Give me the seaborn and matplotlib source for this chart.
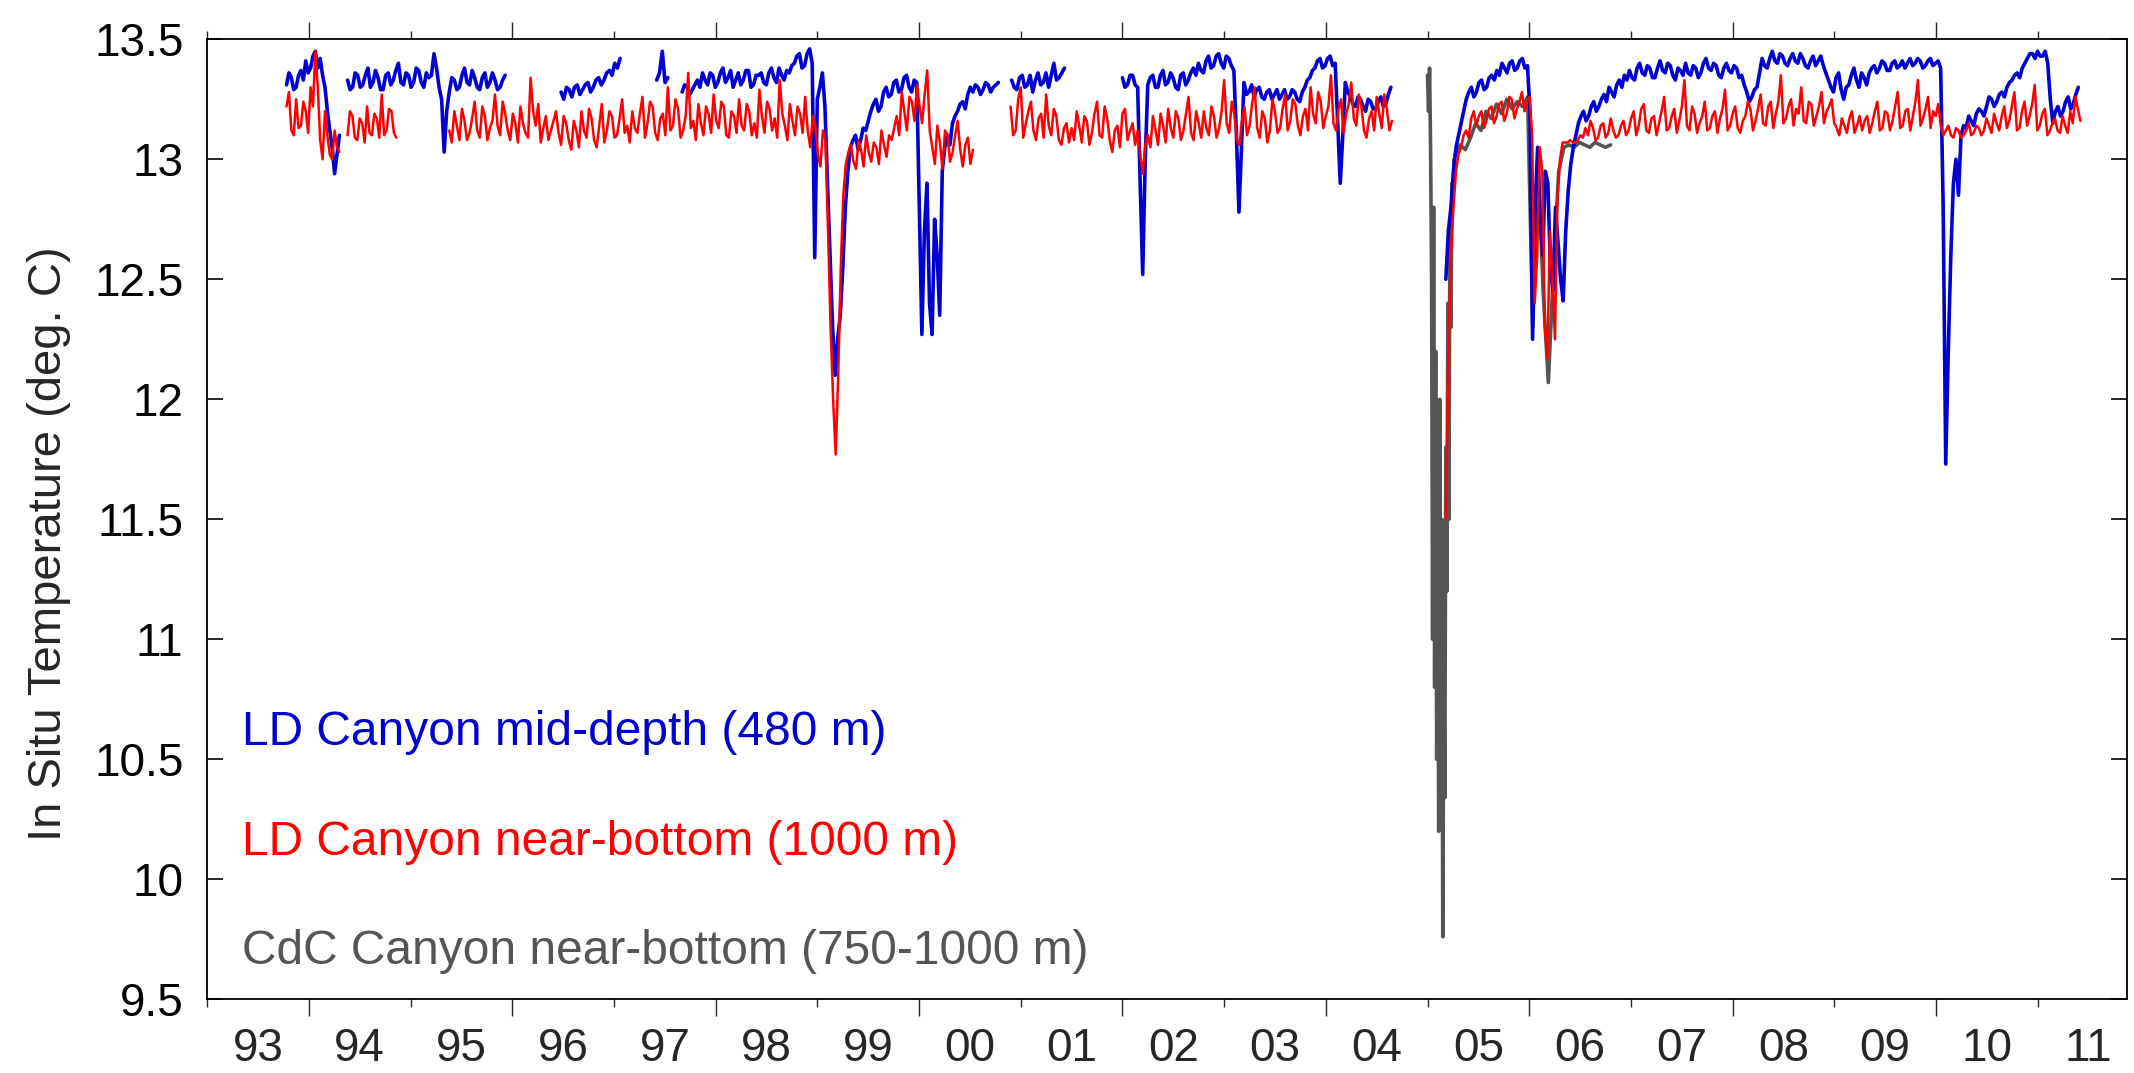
import numpy as np
import pandas as pd
import matplotlib
matplotlib.use("Agg")
import matplotlib.pyplot as plt
from matplotlib.ticker import FixedLocator, FuncFormatter, NullFormatter
import seaborn as sns

# ---------------- data ----------------
# LD Canyon mid-depth (480 m): record spans (decimal year), readings and in-between readings
blue_spans = [(1993.78, 1994.30), (1994.38, 1995.93), (1996.48, 1997.06), (1997.42, 1997.53),
              (1997.67, 2000.78), (2000.91, 2001.43), (2002.00, 2004.64), (2005.18, 2011.40)]
blue_a = [13.31, 13.34, 13.30, 13.37, 13.41, 13.38, 13.45, 13.42, 13.30, 13.12, 12.94, 13.10]
blue_a_mid = [13.36, 13.29, 13.35, 13.33, 13.36, 13.43, 13.38, 13.35, 13.20, 13.05, 13.02]
blue_b = [13.33, 13.30, 13.35, 13.31, 13.38, 13.32, 13.34, 13.29, 13.36, 13.33, 13.40, 13.31, 13.35,
          13.32, 13.37, 13.30, 13.34, 13.44, 13.30, 13.03, 13.28, 13.33, 13.30, 13.38, 13.31, 13.34,
          13.29, 13.36, 13.32, 13.33, 13.30, 13.35]
blue_b_mid = [13.29, 13.36, 13.30, 13.35, 13.30, 13.37, 13.29, 13.35, 13.31, 13.37, 13.32, 13.36,
              13.30, 13.38, 13.32, 13.36, 13.35, 13.38, 13.25, 13.20, 13.34, 13.29, 13.35, 13.32,
              13.37, 13.30, 13.34, 13.30, 13.36, 13.29, 13.33]
blue_c = [13.28, 13.30, 13.26, 13.31, 13.29, 13.32, 13.30, 13.34, 13.33, 13.37, 13.40, 13.42]
blue_c_mid = [13.25, 13.29, 13.30, 13.27, 13.31, 13.28, 13.33, 13.31, 13.36, 13.35, 13.38]
blue_d = [13.33, 13.45, 13.34]
blue_d_mid = [13.36, 13.32]
blue_e = [13.28, 13.30, 13.29,
          13.33, 13.36, 13.31, 13.35, 13.32, 13.38, 13.34, 13.30, 13.36, 13.33, 13.37, 13.31, 13.35,
          13.32, 13.36, 13.34, 13.38, 13.33, 13.36,
          13.40, 13.44, 13.39, 13.46, 12.59, 13.30, 13.22, 12.60, 12.10, 12.35, 12.80,
          13.05, 13.10, 13.08, 13.12, 13.20, 13.25, 13.22,
          13.30, 13.27, 13.33, 13.29, 13.35, 13.28, 13.32,
          12.27, 12.90, 12.27, 12.60, 12.95, 13.10, 13.15, 13.20, 13.24, 13.27,
          13.28, 13.30, 13.29, 13.31, 13.30, 13.32]
blue_e_mid = [13.31, 13.27, 13.31,
              13.30, 13.33, 13.36, 13.30, 13.36, 13.32, 13.37, 13.33, 13.31, 13.37, 13.30, 13.35,
              13.36, 13.31, 13.38, 13.32, 13.35, 13.37, 13.39,
              13.43, 13.38, 13.44, 13.40, 13.25, 13.36, 12.90, 12.30, 12.25, 12.55, 12.95,
              13.08, 13.04, 13.13, 13.16, 13.23, 13.20, 13.28,
              13.26, 13.32, 13.28, 13.34, 13.30, 13.33, 12.80,
              12.70, 12.40, 12.75, 12.35, 13.05, 13.06, 13.18, 13.23, 13.21, 13.30,
              13.31, 13.27, 13.32, 13.28, 13.31]
blue_f = [13.33, 13.29, 13.35, 13.31, 13.28, 13.36, 13.32, 13.30, 13.40, 13.34, 13.38]
blue_f_mid = [13.30, 13.34, 13.30, 13.35, 13.33, 13.31, 13.36, 13.35, 13.33, 13.36]
blue_g = [13.34, 13.31, 13.35, 13.30, 12.52,
          13.31, 13.35, 13.30, 13.37, 13.32, 13.34, 13.29, 13.36, 13.33, 13.38,
          13.40, 13.36, 13.43, 13.39, 13.44, 13.38, 13.42, 13.37, 12.78,
          13.32, 13.28, 13.26, 13.30, 13.25, 13.29,
          13.27, 13.25, 13.29, 13.26, 13.28, 13.24, 13.30, 13.34,
          13.38, 13.42, 13.39, 13.43, 13.40, 12.90,
          13.32, 13.26, 13.22, 13.25, 13.20, 13.24, 13.21, 13.26, 13.23, 13.30]
blue_g_mid = [13.30, 13.35, 13.31, 12.90, 13.00,
              13.34, 13.30, 13.35, 13.31, 13.36, 13.30, 13.35, 13.31, 13.36, 13.35,
              13.37, 13.41, 13.38, 13.43, 13.40, 13.43, 13.39, 13.10, 13.05,
              13.27, 13.31, 13.29, 13.26, 13.28, 13.25,
              13.29, 13.27, 13.25, 13.29, 13.25, 13.28, 13.33, 13.37,
              13.41, 13.38, 13.42, 13.39, 13.15, 13.10,
              13.28, 13.23, 13.26, 13.22, 13.25, 13.21, 13.24, 13.22, 13.27]
blue_h = [12.50, 12.80, 13.05, 13.15,
          13.25, 13.30, 13.28, 13.33, 13.30, 13.35,
          13.37, 13.40, 13.36, 13.41, 13.38, 13.42, 13.39,
          12.25, 13.05, 12.60, 12.90, 12.45, 12.65, 12.41,
          12.87, 13.05, 13.15, 13.20, 13.18, 13.24,
          13.22, 13.27, 13.30, 13.26, 13.33, 13.35,
          13.37, 13.33, 13.40, 13.35, 13.38, 13.34, 13.41, 13.36, 13.39, 13.33, 13.37, 13.40,
          13.35, 13.38, 13.36, 13.42, 13.37, 13.39, 13.34, 13.40, 13.36, 13.38, 13.35,
          13.28, 13.26, 13.30,
          13.42, 13.38, 13.45, 13.40, 13.43, 13.39, 13.44, 13.40, 13.42, 13.38, 13.43, 13.41, 13.39,
          13.33, 13.28, 13.36, 13.25, 13.31, 13.38, 13.30, 13.34, 13.36, 13.39,
          13.38, 13.40, 13.37, 13.41, 13.39, 13.38, 13.42, 13.40, 13.41, 13.39, 13.42, 13.40, 13.38,
          11.73, 12.60, 13.00, 13.10,
          13.13, 13.16, 13.19, 13.20,
          13.22, 13.25, 13.24, 13.28, 13.30, 13.33, 13.36, 13.38,
          13.42, 13.44, 13.45, 13.43, 13.40,
          13.15, 13.22, 13.20, 13.26, 13.23, 13.30]
blue_h_mid = [12.70, 12.95, 13.10, 13.20,
              13.28, 13.26, 13.32, 13.29, 13.34, 13.33,
              13.35, 13.38, 13.40, 13.37, 13.41, 13.38, 13.20,
              12.80, 12.75, 12.95, 12.55, 12.80, 12.50, 12.70,
              12.98, 13.10, 13.18, 13.16, 13.22, 13.20,
              13.25, 13.24, 13.28, 13.31, 13.30, 13.33,
              13.34, 13.38, 13.36, 13.39, 13.34, 13.38, 13.37, 13.40, 13.35, 13.38, 13.35, 13.36,
              13.39, 13.34, 13.40, 13.38, 13.40, 13.35, 13.38, 13.37, 13.39, 13.34, 13.31,
              13.24, 13.29, 13.36,
              13.39, 13.42, 13.41, 13.44, 13.40, 13.42, 13.41, 13.44, 13.39, 13.41, 13.39, 13.43, 13.36,
              13.30, 13.34, 13.29, 13.30, 13.35, 13.33, 13.36, 13.31, 13.38, 13.36,
              13.41, 13.37, 13.40, 13.38, 13.41, 13.40, 13.39, 13.42, 13.38, 13.41, 13.39, 13.41, 12.80,
              12.20, 12.90, 12.85, 13.14,
              13.18, 13.14, 13.21, 13.18,
              13.26, 13.22, 13.27, 13.26, 13.32, 13.35, 13.34, 13.40,
              13.44, 13.42, 13.43, 13.45, 13.25,
              13.20, 13.18, 13.24, 13.21, 13.27]

# LD Canyon near-bottom (1000 m): readings, plus the readings half-way between them
red_spans = [(1993.78, 1994.30), (1994.38, 1994.86), (1995.38, 2000.53),
             (2000.90, 2004.65), (2005.18, 2011.42)]
red_a = [13.22, 13.12, 13.25, 13.14, 13.20, 13.30, 13.45, 13.08, 13.20, 13.02, 13.12, 13.03]
red_a_mid = [13.28, 13.10, 13.13, 13.24, 13.11, 13.22, 13.30, 13.00, 13.10, 13.00, 13.05]
red_b = [13.10, 13.18, 13.08, 13.15, 13.22, 13.10, 13.17, 13.27, 13.12, 13.20, 13.09]
red_b_mid = [13.20, 13.09, 13.17, 13.07, 13.11, 13.19, 13.09, 13.10, 13.21, 13.11]
red_c = [13.12, 13.20, 13.08, 13.16, 13.11, 13.24, 13.09, 13.18, 13.13, 13.27, 13.10, 13.19,
         13.08, 13.15, 13.22, 13.11, 13.34, 13.14, 13.07, 13.18, 13.12, 13.20,
         13.06, 13.15, 13.04, 13.12, 13.20, 13.09, 13.17, 13.05, 13.23, 13.12, 13.18, 13.10,
         13.25, 13.14,
         13.20, 13.11, 13.26, 13.15, 13.22, 13.08, 13.19, 13.30, 13.14, 13.21, 13.12, 13.36,
         13.16, 13.23, 13.10, 13.19, 13.27, 13.13, 13.22, 13.09, 13.18, 13.25, 13.12, 13.20,
         13.15, 13.29, 13.11, 13.21, 13.17, 13.33, 13.14, 13.23, 13.10, 13.19, 13.26,
         13.05, 13.14, 12.97, 13.08,
         12.30, 11.77, 12.55,
         12.98, 13.06, 12.96, 13.04, 13.10, 12.99, 13.05, 13.12, 13.01, 13.08,
         13.18, 13.28, 13.12, 13.24, 13.31, 13.15, 13.37,
         13.05, 13.14, 12.96, 13.10, 13.03, 13.16, 12.97, 13.09, 13.04]
red_c_mid = [13.07, 13.14, 13.21, 13.08, 13.17, 13.12, 13.22, 13.08, 13.16, 13.14, 13.24, 13.12,
             13.19, 13.07, 13.15, 13.09, 13.20, 13.23, 13.13, 13.08, 13.16, 13.11,
             13.18, 13.08, 13.16, 13.05, 13.12, 13.21, 13.08, 13.14, 13.07, 13.20, 13.09, 13.17,
             13.11, 13.07,
             13.13, 13.19, 13.09, 13.24, 13.11, 13.17, 13.10, 13.12, 13.25, 13.09, 13.18, 13.13,
             13.08, 13.15, 13.22, 13.11, 13.16, 13.24, 13.10, 13.20, 13.11, 13.14, 13.23, 13.10,
             13.09, 13.18, 13.24, 13.12, 13.09, 13.19, 13.08, 13.16, 13.22, 13.11, 13.12,
             13.18, 13.02, 13.12, 12.70,
             12.00, 12.10, 12.85,
             13.03, 12.99, 13.08, 12.97, 13.03, 13.07, 12.98, 13.06, 13.10, 13.13,
             13.10, 13.20, 13.26, 13.16, 13.22, 13.27, 13.12,
             12.98, 13.07, 13.12, 12.99, 13.10, 13.04, 13.06, 12.98]
red_d = [13.22, 13.12, 13.30, 13.15, 13.24, 13.08, 13.19, 13.27, 13.10, 13.18, 13.06, 13.15,
         13.13, 13.20, 13.07, 13.16, 13.11, 13.24, 13.09, 13.17, 13.03, 13.14, 13.19, 13.08,
         13.15, 13.12, 12.94,
         13.10, 13.18, 13.06, 13.14, 13.21, 13.09, 13.17, 13.12, 13.26, 13.08, 13.15, 13.20,
         13.10, 13.18,
         13.13, 13.33, 13.11, 13.19, 13.06, 13.22, 13.14, 13.30, 13.09, 13.17, 13.12,
         13.20, 13.13, 13.27, 13.16, 13.23, 13.10, 13.21, 13.30, 13.15, 13.24, 13.18, 13.35,
         13.12, 13.25, 13.19, 13.32, 13.14, 13.22, 13.09, 13.20, 13.26, 13.13, 13.21, 13.16]
red_d_mid = [13.10, 13.25, 13.09, 13.20, 13.12, 13.17, 13.09, 13.14, 13.21, 13.08, 13.13, 13.07,
             13.08, 13.14, 13.18, 13.06, 13.19, 13.10, 13.22, 13.08, 13.12, 13.05, 13.21, 13.12,
             13.06, 13.02, 13.06,
             13.05, 13.12, 13.19, 13.07, 13.13, 13.20, 13.08, 13.19, 13.11, 13.20, 13.09, 13.13,
             13.22, 13.09,
             13.20, 13.15, 13.24, 13.08, 13.16, 13.10, 13.23, 13.13, 13.20, 13.07, 13.25,
             13.11, 13.21, 13.12, 13.25, 13.14, 13.18, 13.12, 13.19, 13.28, 13.13, 13.22, 13.15,
             13.21, 13.11, 13.23, 13.17, 13.27, 13.12, 13.17, 13.12, 13.19, 13.27, 13.12]
red_e = [11.50, 12.60, 12.95, 13.05,
         13.12, 13.17, 13.14, 13.20, 13.16, 13.22, 13.18, 13.24, 13.19, 13.25, 13.21, 13.28, 13.24,
         13.10, 12.60, 12.95, 12.17, 12.50, 12.85,
         13.07, 13.07, 13.07, 13.08, 13.09,
         13.10, 13.13, 13.09, 13.15, 13.11, 13.12, 13.10, 13.16,
         13.12, 13.20, 13.14, 13.23, 13.11, 13.18, 13.15, 13.26, 13.13, 13.21, 13.16, 13.33,
         13.12, 13.19, 13.15, 13.24, 13.13, 13.20, 13.17, 13.29, 13.14, 13.22, 13.11, 13.18, 13.21,
         13.16, 13.27, 13.14, 13.24, 13.19, 13.35, 13.17, 13.25, 13.21, 13.30, 13.15, 13.23,
         13.18, 13.28, 13.20, 13.25,
         13.13, 13.17, 13.11, 13.20, 13.14, 13.12, 13.18, 13.15, 13.24, 13.13, 13.19, 13.16,
         13.28, 13.14, 13.21, 13.18, 13.33, 13.17, 13.26, 13.20, 13.23,
         13.10, 13.14, 13.09, 13.12, 13.10, 13.15, 13.11, 13.13, 13.12,
         13.14, 13.19, 13.12, 13.22, 13.16, 13.28, 13.13, 13.24, 13.18, 13.31, 13.14, 13.21,
         13.12, 13.17, 13.11, 13.14, 13.20, 13.26, 13.16]
red_e_mid = [12.20, 12.80, 13.02, 13.10,
             13.09, 13.20, 13.18, 13.13, 13.21, 13.15, 13.23, 13.16, 13.26, 13.17, 13.24, 13.20, 13.26,
             12.40, 13.05, 12.30, 12.70, 12.25, 13.00,
             13.07, 13.08, 13.07, 13.10, 13.13,
             13.16, 13.08, 13.14, 13.09, 13.17, 13.09, 13.14, 13.10,
             13.17, 13.10, 13.21, 13.12, 13.17, 13.10, 13.20, 13.12, 13.18, 13.11, 13.22, 13.14,
             13.22, 13.11, 13.18, 13.12, 13.18, 13.11, 13.21, 13.12, 13.19, 13.13, 13.16, 13.24,
             13.12,
             13.21, 13.15, 13.22, 13.13, 13.24, 13.15, 13.22, 13.14, 13.19, 13.16, 13.24, 13.14,
             13.22, 13.15, 13.22, 13.15,
             13.10, 13.14, 13.17, 13.11, 13.18, 13.16, 13.11, 13.20, 13.12, 13.20, 13.12, 13.22,
             13.13, 13.20, 13.12, 13.24, 13.14, 13.21, 13.13, 13.18, 13.14,
             13.12, 13.10, 13.13, 13.09, 13.12, 13.10, 13.14, 13.10, 13.17,
             13.11, 13.15, 13.18, 13.13, 13.22, 13.12, 13.20, 13.14, 13.23, 13.12, 13.19, 13.10,
             13.15, 13.12, 13.18, 13.11, 13.15, 13.21]

# CdC Canyon near-bottom (750-1000 m)
gray_spans = [(2005.00, 2005.26), (2005.27, 2006.80)]
gray_a = [13.35, 13.20, 13.38, 13.05, 12.50, 11.00, 12.80, 10.80, 12.20, 10.50, 11.40, 10.20,
          12.00, 10.70, 11.50, 9.76, 10.90, 10.34, 11.80, 11.20, 12.40, 11.50, 12.70, 12.30,
          12.90, 12.85, 13.00]
gray_b = [13.02, 13.06, 13.04, 13.09,
          13.15, 13.12, 13.20, 13.17, 13.23, 13.19, 13.25, 13.21, 13.24, 13.22, 13.26,
          12.30, 13.00, 12.45, 12.07, 12.55, 12.95,
          13.05, 13.06, 13.05, 13.07, 13.06, 13.05, 13.07, 13.06, 13.05, 13.06]

series_labels = ["LD Canyon mid-depth (480 m)", "LD Canyon near-bottom (1000 m)",
                 "CdC Canyon near-bottom (750-1000 m)"]
year_labels = ["93", "94", "95", "96", "97", "98", "99", "00", "01", "02", "03",
               "04", "05", "06", "07", "08", "09", "10", "11"]
y_ticks = [9.5, 10, 10.5, 11, 11.5, 12, 12.5, 13, 13.5]


# ---------------- build frames ----------------
def build(spans, segs, mids=None):
    frames = []
    for k, ((t0, t1), vals) in enumerate(zip(spans, segs)):
        vals = list(vals)
        if mids is not None:
            seq = []
            for i, v in enumerate(vals):
                seq.append(v)
                if i < len(mids[k]):
                    seq.append(mids[k][i])
            vals = seq
        frames.append(pd.DataFrame({"year": np.linspace(t0, t1, len(vals)),
                                    "temp": vals, "segment": k}))
    return pd.concat(frames, ignore_index=True)


df_blue = build(blue_spans, [blue_a, blue_b, blue_c, blue_d, blue_e, blue_f, blue_g, blue_h],
                [blue_a_mid, blue_b_mid, blue_c_mid, blue_d_mid, blue_e_mid, blue_f_mid,
                 blue_g_mid, blue_h_mid])
df_red = build(red_spans, [red_a, red_b, red_c, red_d, red_e],
               [red_a_mid, red_b_mid, red_c_mid, red_d_mid, red_e_mid])
df_gray = build(gray_spans, [gray_a, gray_b])

# ---------------- style ----------------
sns.set_style("white")
plt.rcParams["font.family"] = ["Liberation Sans", "DejaVu Sans"]

BLUE = "#0000d0"
RED = "#ff0000"
GRAY = "#555555"

fig = plt.figure(figsize=(21.34, 10.73), dpi=100)
ax = fig.add_axes([0.0971, 0.0687, 0.8997, 0.8947])

common = dict(x="year", y="temp", units="segment", estimator=None, sort=False,
              ax=ax, legend=False)
sns.lineplot(data=df_gray, color=GRAY, lw=2.6, **common)
sns.lineplot(data=df_blue, color=BLUE, lw=2.6, **common)
sns.lineplot(data=df_red, color=RED, lw=1.8, **common)

ax.set_xlim(1993.0, 2011.88)
ax.set_ylim(9.5, 13.5)
ax.set_xlabel("")
ax.set_ylabel("In Situ Temperature (deg. C)", fontsize=34)
ax.yaxis.set_label_coords(-0.071, 0.475)

for s in ax.spines.values():
    s.set_visible(True)
    s.set_color("black")
    s.set_linewidth(1.3)

# y ticks: inside, both sides
ax.yaxis.set_major_locator(FixedLocator(y_ticks))
ax.yaxis.set_major_formatter(FuncFormatter(lambda v, p: f"{v:g}"))
ax.tick_params(axis="y", which="major", direction="in", length=11.5, width=1.2,
               left=True, right=True, labelsize=33, pad=17, colors="black")

# x ticks: year boundaries outward, even years long, odd years short
years = np.arange(1993, 2012)
ax.xaxis.set_major_locator(FixedLocator([y for y in years if y % 2 == 0]))
ax.xaxis.set_minor_locator(FixedLocator([y for y in years if y % 2 == 1]))
ax.xaxis.set_major_formatter(NullFormatter())
ax.xaxis.set_minor_formatter(NullFormatter())
ax.tick_params(axis="x", which="major", direction="out", length=12, width=1.0,
               top=True, bottom=True)
ax.tick_params(axis="x", which="minor", direction="out", length=6, width=1.0,
               top=True, bottom=True)

# year labels centred in each year
sec = ax.secondary_xaxis("bottom")
sec.set_xticks(years + 0.5)
sec.set_xticklabels(year_labels)
sec.tick_params(length=0, labelsize=33, pad=20)
sec.spines["bottom"].set_visible(False)

# series labels
for lab, col, yy in zip(series_labels, [BLUE, RED, GRAY], [0.265, 0.150, 0.037]):
    ax.text(0.018, yy, lab, color=col, fontsize=34.5, transform=ax.transAxes,
            ha="left", va="baseline")

fig.savefig("out.png", dpi=100)
